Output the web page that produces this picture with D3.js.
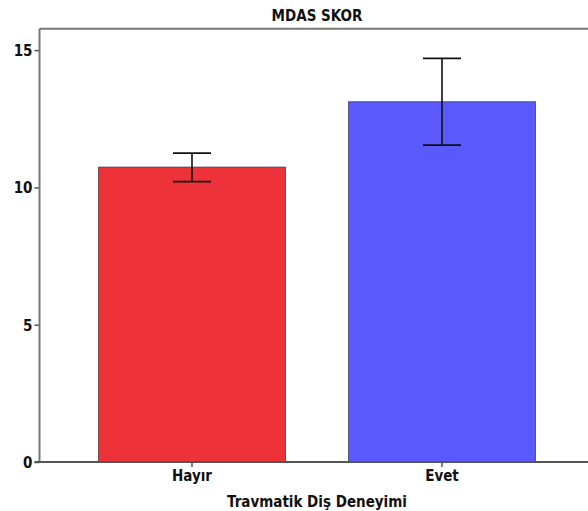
<!DOCTYPE html>
<html>
<head>
<meta charset="utf-8">
<script src="https://cdn.jsdelivr.net/npm/d3@7"></script>
<style>
body { margin: 0; background: #fff; }
text { font-family: "Liberation Sans Narrow", "DejaVu Sans Condensed", "Open Sans", sans-serif; font-weight: bold; fill: #111; }
</style>
</head>
<body>
<svg width="588" height="511"></svg>
<script>
const categories = ["Hayır", "Evet"];
const means = [10.74, 13.12];
const lower = [10.21, 11.54];
const upper = [11.25, 14.70];
const colors = ["#ee323a", "#5a5afc"];
const yTicks = [0, 5, 10, 15];

const plotL = 39.5, plotR = 594.5, plotT = 28.7, plotB = 462;
const svg = d3.select("svg");

const x = d3.scaleBand()
    .domain(categories)
    .range([plotL, plotR])
    .paddingInner(0.252)
    .paddingOuter(0.236);

const y = d3.scaleLinear()
    .domain([0, 15.78])
    .range([plotB, plotT]);

// frame top line
svg.append("line")
    .attr("x1", plotL).attr("x2", 588)
    .attr("y1", plotT).attr("y2", plotT)
    .attr("stroke", "#777").attr("stroke-width", 2);

// bars
svg.selectAll("rect.bar")
    .data(categories)
    .enter()
    .append("rect")
    .attr("class", "bar")
    .attr("x", d => x(d))
    .attr("y", (d, i) => y(means[i]))
    .attr("width", x.bandwidth())
    .attr("height", (d, i) => plotB - y(means[i]))
    .attr("fill", (d, i) => colors[i])
    .attr("stroke", "#333")
    .attr("stroke-opacity", 0.7)
    .attr("stroke-width", 1);

// error bars
const cap = 19;
const eb = svg.selectAll("g.err")
    .data(categories)
    .enter()
    .append("g")
    .attr("class", "err")
    .attr("stroke", "#111")
    .attr("stroke-width", 1.6);

eb.append("line")
    .attr("x1", d => x(d) + x.bandwidth() / 2)
    .attr("x2", d => x(d) + x.bandwidth() / 2)
    .attr("y1", (d, i) => y(upper[i]))
    .attr("y2", (d, i) => y(lower[i]));
eb.append("line")
    .attr("x1", d => x(d) + x.bandwidth() / 2 - cap)
    .attr("x2", d => x(d) + x.bandwidth() / 2 + cap)
    .attr("y1", (d, i) => y(upper[i]))
    .attr("y2", (d, i) => y(upper[i]));
eb.append("line")
    .attr("x1", d => x(d) + x.bandwidth() / 2 - cap)
    .attr("x2", d => x(d) + x.bandwidth() / 2 + cap)
    .attr("y1", (d, i) => y(lower[i]))
    .attr("y2", (d, i) => y(lower[i]));

// y axis
const yAxis = svg.append("g")
    .attr("transform", `translate(${plotL},0)`)
    .call(d3.axisLeft(y).tickValues(yTicks).tickSize(5).tickPadding(2).tickSizeOuter(0));
yAxis.select(".domain").remove();
yAxis.selectAll(".tick line").attr("stroke", "#555").attr("stroke-width", 1.5);
yAxis.selectAll(".tick text").style("font-size", "15px").attr("dy", "0.36em");
svg.append("line")
    .attr("x1", plotL).attr("x2", plotL)
    .attr("y1", plotT).attr("y2", plotB)
    .attr("stroke", "#777").attr("stroke-width", 2);

// x axis
const xAxis = svg.append("g")
    .attr("transform", `translate(0,${plotB})`)
    .call(d3.axisBottom(x).tickSize(5).tickPadding(3).tickSizeOuter(0));
xAxis.select(".domain").remove();
xAxis.selectAll(".tick line").attr("stroke", "#555").attr("stroke-width", 1.5);
xAxis.selectAll(".tick text").style("font-size", "15px");
svg.append("line")
    .attr("x1", plotL - 5).attr("x2", 588)
    .attr("y1", plotB).attr("y2", plotB)
    .attr("stroke", "#555").attr("stroke-width", 2);

// title and axis label
svg.append("text")
    .attr("x", (plotL + plotR) / 2).attr("y", 21)
    .attr("text-anchor", "middle")
    .style("font-size", "15px")
    .text("MDAS SKOR");

svg.append("text")
    .attr("x", (plotL + plotR) / 2).attr("y", 507)
    .attr("text-anchor", "middle")
    .style("font-size", "15px")
    .text("Travmatik Diş Deneyimi");
</script>
</body>
</html>
